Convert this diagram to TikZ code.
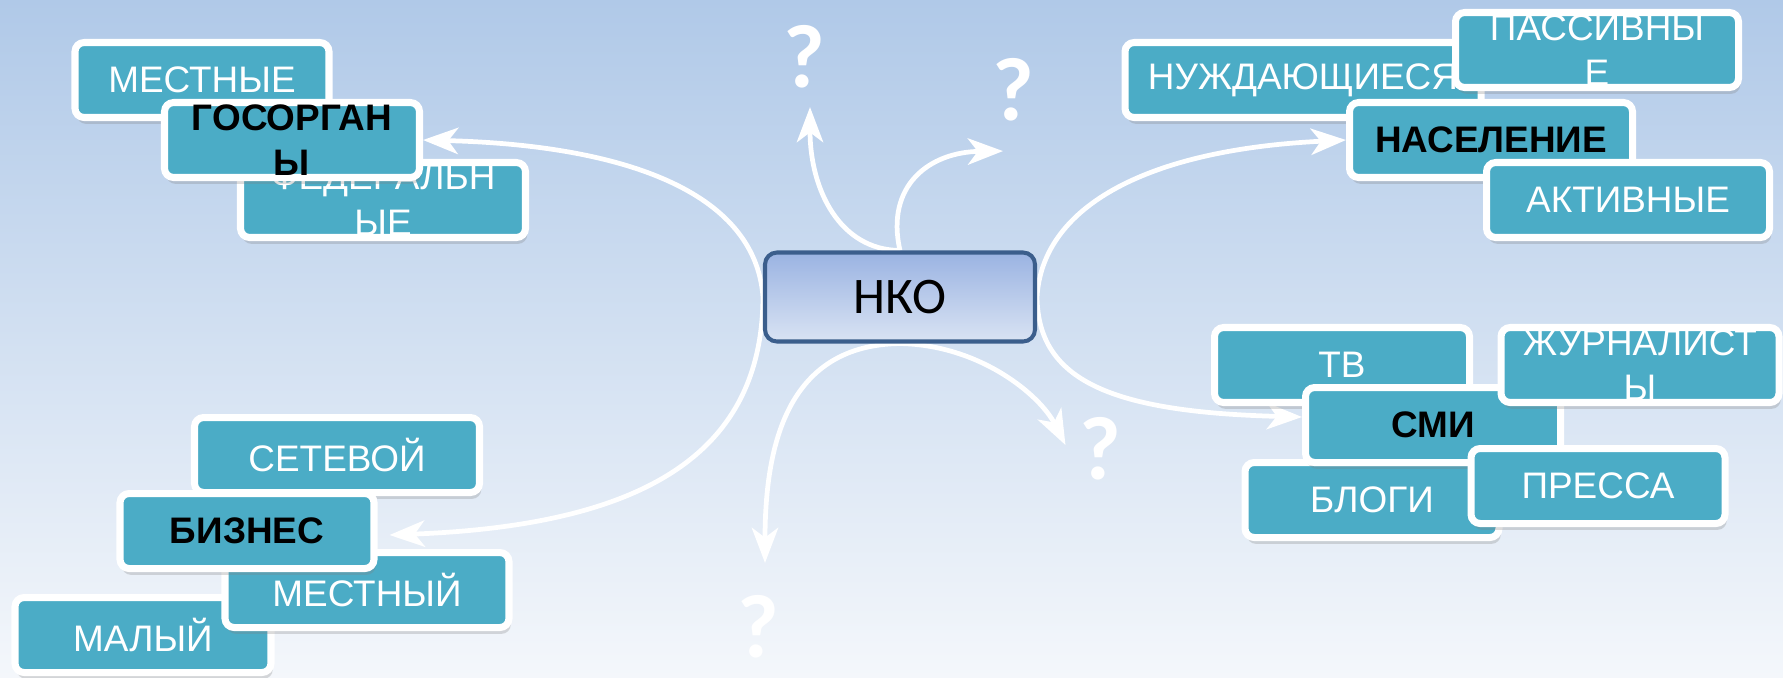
\documentclass[tikz,border=0pt]{standalone}
\usepackage{fontspec}
\setmainfont{Liberation Sans}
\newfontfamily\hubfont{Carlito}
\usepackage{tikz}
\usetikzlibrary{arrows.meta,backgrounds,shadows}
\definecolor{skyTop}{HTML}{B0C9E8}
\definecolor{skyBottom}{HTML}{F4F7FB}
\definecolor{tealFill}{HTML}{4BACC6}
\definecolor{hubEdge}{HTML}{3B5E8C}
\definecolor{hubTop}{HTML}{9AB3E2}
\definecolor{hubBottom}{HTML}{D9E3F3}
\tikzset{
  tag/.style={draw=white, fill=tealFill, rounded corners=2.6pt,
    line width=2pt, align=center, inner sep=0pt, minimum height=7.5mm,
    text=white, font=\fontsize{10.5}{13}\selectfont,
    drop shadow={shadow xshift=.5pt, shadow yshift=-1.8pt, opacity=.28}},
  topic/.style={tag, text=black, font=\fontsize{10.5}{13}\selectfont\bfseries},
  hub/.style={draw=hubEdge, line width=1.15pt, rounded corners=3.4pt,
    top color=hubTop, bottom color=hubBottom, minimum width=27mm,
    minimum height=8.9mm, inner sep=0pt,
    font=\hubfont\fontsize{14.6}{16}\selectfont},
  guess/.style={text=white, inner sep=0pt,
    font=\hubfont\bfseries\fontsize{25.6}{28}\selectfont},
  branch/.style={-{Stealth[length=10pt,width=7.5pt,inset=2.8pt]}, draw=white,
    line width=1.35pt}
}

\begin{document}
\begin{tikzpicture}[x=0.1mm,y=-0.1mm]
\useasboundingbox (0,0) rectangle (1783,677);

% ---------------------------------------------------------------------------
% Centre of the map.
% ---------------------------------------------------------------------------
\node[hub] (nko) at (900,297) {НКО};

% ---------------------------------------------------------------------------
% Top left: state bodies.
% ---------------------------------------------------------------------------
\node[tag, minimum width=25.4mm] (mestnye) at (202,80) {МЕСТНЫЕ};
\node[tag, minimum width=28.5mm] (federal) at (383,200) {ФЕДЕРАЛЬН\\ЫЕ};
\node[topic, minimum width=25.5mm] (gos) at (292,140) {ГОСОРГАН\\Ы};

% ---------------------------------------------------------------------------
% Top right: population.
% ---------------------------------------------------------------------------
\node[tag, minimum width=35.6mm] (nuzhd) at (1303,80) {НУЖДАЮЩИЕСЯ};
\node[tag, minimum width=28.3mm] (passiv) at (1597,50) {ПАССИВНЫ\\Е};
\node[topic, minimum width=28.3mm] (nasel) at (1491,140) {НАСЕЛЕНИЕ};
\node[tag, minimum width=28.3mm] (aktiv) at (1628,200) {АКТИВНЫЕ};

% ---------------------------------------------------------------------------
% Bottom left: business.
% ---------------------------------------------------------------------------
\node[tag, minimum width=25.6mm] (malyi) at (143,635) {МАЛЫЙ};
\node[tag, minimum width=28.5mm] (setev) at (337,455) {СЕТЕВОЙ};
\node[tag, minimum width=28.4mm] (mestnyi) at (367,590) {МЕСТНЫЙ};
\node[topic, minimum width=25.4mm] (biz) at (247,531) {БИЗНЕС};

% ---------------------------------------------------------------------------
% Bottom right: media.
% ---------------------------------------------------------------------------
\node[tag, minimum width=25.5mm] (tv) at (1342,365) {ТВ};
\node[tag, minimum width=25.4mm] (blogi) at (1372,500) {БЛОГИ};
\node[topic, minimum width=25.5mm] (smi) at (1433,425) {СМИ};
\node[tag, minimum width=27.8mm] (zhurn) at (1640,365) {ЖУРНАЛИСТ\\Ы};
\node[tag, minimum width=25.4mm] (pressa) at (1598,486) {ПРЕССА};

% Open questions.
\node[guess] (q1) at (804,57) {?};
\node[guess] (q2) at (1013,90) {?};
\node[guess] (q3) at (1100,449) {?};
\node[guess] (q4) at (758,627) {?};

\begin{scope}[on background layer]
  \fill[top color=skyTop, bottom color=skyBottom] (0,0) rectangle (1783,677);

  \draw[branch] (nko.west) .. controls (755,190) and (620,145) .. (gos.east);
  \draw[branch] (nko.west) .. controls (762,450) and (650,525)
    .. ([shift={(12,4)}]biz.east);
  \draw[branch] (nko.east) .. controls (1042,210) and (1140,150) .. (nasel.west);
  \draw[branch] (nko.east) .. controls (1038,380) and (1110,412)
    .. ([shift={(0,-8)}]smi.west);

  \draw[branch] (nko.north) .. controls (840,250) and (810,190)
    .. ([shift={(6,18)}]q1.south);
  \draw[branch] (nko.north) .. controls (885,185) and (930,152)
    .. ([shift={(-10,29)}]q2.south);
  \draw[branch] (nko.south) .. controls (980,345) and (1040,395)
    .. ([shift={(-13,-4)}]q3.west);
  \draw[branch] (nko.south) .. controls (790,345) and (765,440)
    .. ([shift={(7,-32)}]q4.north);
\end{scope}

\end{tikzpicture}
\end{document}
